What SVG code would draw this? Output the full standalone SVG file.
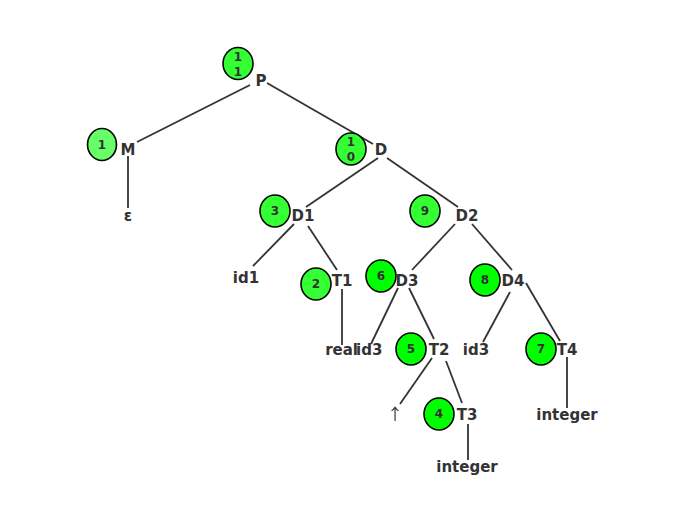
<svg xmlns="http://www.w3.org/2000/svg" width="679" height="518" viewBox="0 0 679 518">
<style>
.lbl{font-family:"DejaVu Sans",Verdana,sans-serif;font-weight:bold;font-size:15px;fill:#333;text-anchor:middle}
.num{font-family:"DejaVu Sans",Verdana,sans-serif;font-weight:bold;font-size:12px;fill:#333;text-anchor:middle}
.arr{font-family:"Noto Sans CJK SC",sans-serif;font-size:16px;fill:#333;text-anchor:middle}
.c{stroke:#000;stroke-width:1.6}
.g1{fill:#66ff66}.g2{fill:#33ff33}.g3{fill:#00ff00}
#edges line{stroke:#333;stroke-width:1.8}
</style>
<rect width="679" height="518" fill="#fff"/>
<g id="edges">
<line x1="250" y1="85" x2="137" y2="142"/>
<line x1="267" y1="83" x2="373" y2="144"/>
<line x1="128" y1="156" x2="128" y2="208"/>
<line x1="378" y1="158" x2="306" y2="207"/>
<line x1="387" y1="158" x2="458" y2="207"/>
<line x1="294" y1="224" x2="253" y2="266"/>
<line x1="308" y1="226" x2="337" y2="270"/>
<line x1="342" y1="289" x2="342" y2="345"/>
<line x1="455" y1="224" x2="412" y2="270"/>
<line x1="472" y1="224" x2="512" y2="270"/>
<line x1="398" y1="288" x2="371" y2="344"/>
<line x1="409" y1="288" x2="434" y2="339"/>
<line x1="432" y1="358" x2="400" y2="404"/>
<line x1="446" y1="361" x2="462" y2="403"/>
<line x1="468" y1="424" x2="468" y2="460"/>
<line x1="510" y1="292" x2="483" y2="342"/>
<line x1="526" y1="283" x2="560" y2="341"/>
<line x1="567" y1="357" x2="567" y2="408"/>
</g>
<g id="P"><ellipse class="c g2" cx="238" cy="63.5" rx="15" ry="16"/><text class="num" x="238" y="61">1</text><text class="num" x="238" y="76">1</text><text class="lbl" x="261" y="86">P</text></g>
<g id="M"><ellipse class="c g1" cx="102" cy="144.5" rx="14.5" ry="16"/><text class="num" x="102" y="149">1</text><text class="lbl" x="128" y="155">M</text></g>
<g id="eps"><text class="lbl" x="128" y="221">ε</text></g>
<g id="D"><ellipse class="c g2" cx="351" cy="149" rx="15" ry="16"/><text class="num" x="351" y="146">1</text><text class="num" x="351" y="161">0</text><text class="lbl" x="381" y="155">D</text></g>
<g id="D1"><ellipse class="c g2" cx="275" cy="211" rx="15" ry="16"/><text class="num" x="275" y="215">3</text><text class="lbl" x="303" y="221">D1</text></g>
<g id="id1"><text class="lbl" x="246" y="283">id1</text></g>
<g id="T1"><ellipse class="c g2" cx="316" cy="284" rx="15" ry="16"/><text class="num" x="316" y="288">2</text><text class="lbl" x="342" y="286">T1</text></g>
<g id="real"><text class="lbl" x="358" y="355" style="text-anchor:end">real</text></g>
<g id="id3a"><text class="lbl" x="356" y="355" style="text-anchor:start">id3</text></g>
<g id="D2"><ellipse class="c g2" cx="425" cy="211" rx="15" ry="16"/><text class="num" x="425" y="215">9</text><text class="lbl" x="467" y="221">D2</text></g>
<g id="D3"><ellipse class="c g3" cx="381" cy="276" rx="15" ry="16"/><text class="num" x="381" y="280">6</text><text class="lbl" x="407" y="286">D3</text></g>
<g id="D4"><ellipse class="c g3" cx="485" cy="280" rx="15" ry="16"/><text class="num" x="485" y="284">8</text><text class="lbl" x="513" y="286">D4</text></g>
<g id="T2"><ellipse class="c g3" cx="411" cy="349" rx="15" ry="16"/><text class="num" x="411" y="353">5</text><text class="lbl" x="439" y="355">T2</text></g>
<g id="id3b"><text class="lbl" x="476" y="355">id3</text></g>
<g id="T4"><ellipse class="c g3" cx="541" cy="349" rx="15" ry="16"/><text class="num" x="541" y="353">7</text><text class="lbl" x="567" y="355">T4</text></g>
<g id="arrow"><text class="arr" x="395" y="420">↑</text></g>
<g id="T3"><ellipse class="c g3" cx="439" cy="414" rx="15" ry="16"/><text class="num" x="439" y="418">4</text><text class="lbl" x="467" y="420">T3</text></g>
<g id="int1"><text class="lbl" x="567" y="420">integer</text></g>
<g id="int2"><text class="lbl" x="467" y="472">integer</text></g>
</svg>
